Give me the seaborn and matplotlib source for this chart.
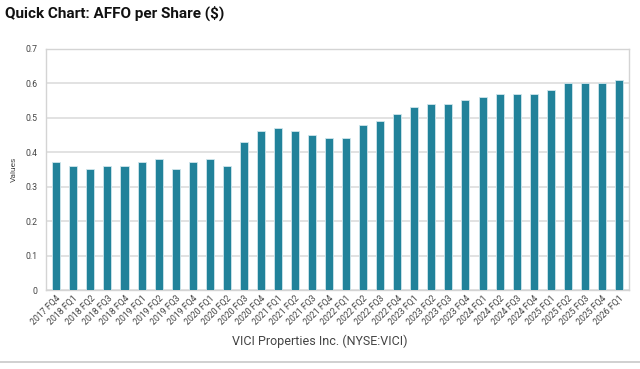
import pandas as pd
import matplotlib.pyplot as plt
import seaborn as sns


QUARTERS = ["2017 FQ4"] + [f"{y} FQ{q}" for y in range(2018, 2026) for q in range(1, 5)] + ["2026 FQ1"]
AFFO = [0.37, 0.36, 0.35, 0.36, 0.36, 0.37, 0.38, 0.35, 0.37, 0.38,
        0.36, 0.43, 0.46, 0.47, 0.46, 0.45, 0.44, 0.44, 0.48, 0.49,
        0.51, 0.53, 0.54, 0.54, 0.55, 0.56, 0.57, 0.57, 0.57, 0.58,
        0.60, 0.60, 0.60, 0.61]
Y_TICKS = [0, 0.1, 0.2, 0.3, 0.4, 0.5, 0.6, 0.7]

BAR_COLOR = "#21829a"
GRID_COLOR = "#dddddd"


df = pd.DataFrame({"quarter": QUARTERS, "value": AFFO})

sns.set_theme(style="white")
plt.rcParams['font.family'] = ['Roboto', 'DejaVu Sans']

fig = plt.figure(figsize=(6.4, 3.69), dpi=100)
ax = fig.add_axes([0.072, 0.214, 0.911, 0.654])

sns.barplot(data=df, x="quarter", y="value", color=BAR_COLOR, saturation=1,
            width=0.47, edgecolor="#cfe6ec", linewidth=0.6, ax=ax, zorder=3)

ax.set_ylim(0, 0.7)
ax.set_yticks(Y_TICKS)
ax.set_yticklabels(["0"] + [f"{t:.1f}" for t in Y_TICKS[1:]], fontsize=6.3, color="#444444")
ax.set_xlim(-0.6, len(QUARTERS) - 0.4)
ax.yaxis.grid(True, color=GRID_COLOR, linewidth=1.2, zorder=0)
ax.set_axisbelow(True)
ax.tick_params(axis="both", length=0, pad=6)
ax.set_xticks(range(len(QUARTERS)))
ax.set_xticklabels(QUARTERS, rotation=45, ha="right", rotation_mode="anchor",
                   fontsize=6.3, color="#444444")
ax.tick_params(axis="x", pad=3)
ax.set_xlabel("")
ax.set_ylabel("Values", fontsize=6, color="#444444", labelpad=6)
for s in ax.spines.values():
    s.set_color("#d4d4d4")
    s.set_linewidth(1.0)

fig.text(0.008, 0.965, "Quick Chart: AFFO per Share ($)", fontsize=11,
         fontweight="bold", color="#111111", va="center", ha="left")
fig.text(0.5, 0.075, "VICI Properties Inc. (NYSE:VICI)", fontsize=9,
         color="#444444", ha="center", va="center")
fig.add_artist(plt.Line2D([0, 1], [0.019, 0.019], color="#c8c8c8", linewidth=1.2,
                          transform=fig.transFigure))

fig.savefig("out.png", dpi=100)
